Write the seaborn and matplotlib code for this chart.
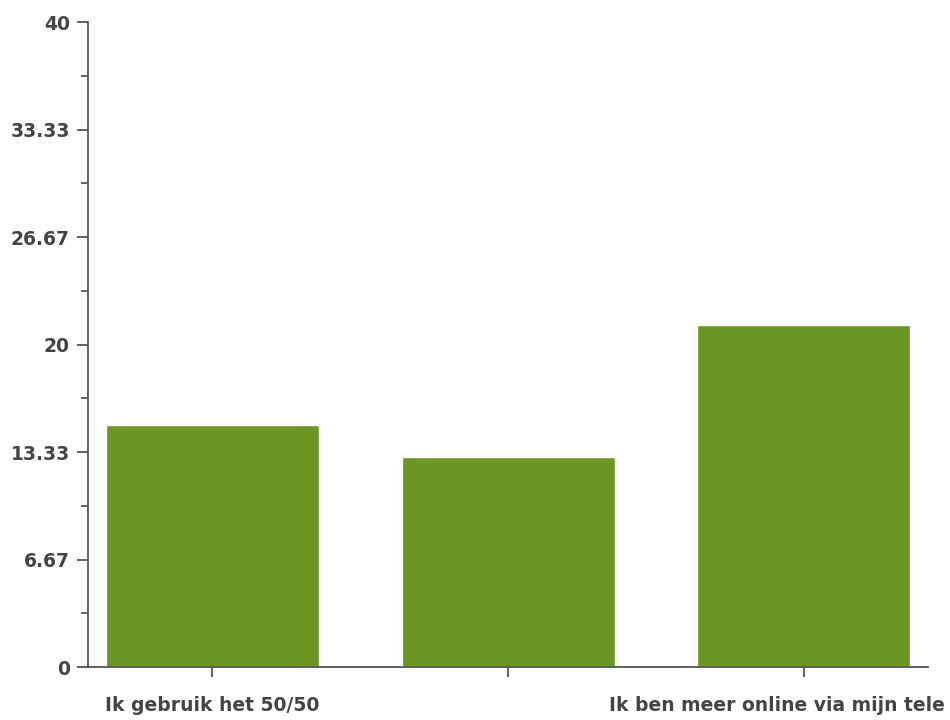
import matplotlib
matplotlib.use('Agg')
import matplotlib.pyplot as plt
import matplotlib.transforms as mtransforms
import seaborn as sns
import pandas as pd
from matplotlib.ticker import FixedLocator

# Data
categories = ['Ik gebruik het 50/50', '', 'Ik ben meer online via mijn tele']
values = [15.0, 13.0, 21.2]
y_ticks = [0, 6.67, 13.33, 20, 26.67, 33.33, 40]
y_tick_labels = ['0', '6.67', '13.33', '20', '26.67', '33.33', '40']

df = pd.DataFrame({'cat': ['a', 'b', 'c'], 'value': values})

sns.set_style('white')
plt.rcParams['font.family'] = ['DejaVu Sans']

fig = plt.figure(figsize=(9.5, 7.2), dpi=100)
ax = fig.add_axes([0.0926, 0.0736, 0.8844, 0.8954])

sns.barplot(data=df, x='cat', y='value', color='#6b9624', saturation=1,
            width=0.72, ax=ax)

ax.set_xlim(-0.42, 2.42)
ax.set_ylim(0, 40)
ax.set_yticks(y_ticks)
ax.set_yticklabels(y_tick_labels)
ax.yaxis.set_minor_locator(FixedLocator([3.333, 10, 16.667, 23.333, 30, 36.667]))
ax.set_xticks([0, 1, 2])
ax.set_xticklabels(categories)
ax.set_xlabel('')
ax.set_ylabel('')

for s in ['top', 'right']:
    ax.spines[s].set_visible(False)
for s in ['left', 'bottom']:
    ax.spines[s].set_color('#555555')
    ax.spines[s].set_linewidth(1.3)

ax.tick_params(axis='y', which='major', length=8, width=1.3, color='#555555',
               labelsize=13.5, labelcolor='#444444', pad=5, left=True)
ax.tick_params(axis='y', which='minor', length=5, width=1.3, color='#555555', left=True)
ax.tick_params(axis='x', length=7, width=1.3, color='#555555', direction='out',
               labelsize=13.5, labelcolor='#444444', pad=14, bottom=True)
for lab in ax.get_yticklabels() + ax.get_xticklabels():
    lab.set_fontweight('bold')

# the last label is cut at the right edge in the reference
last = ax.get_xticklabels()[2]
last.set_transform(last.get_transform() + mtransforms.ScaledTranslation(-0.27, 0, fig.dpi_scale_trans))

fig.savefig('out.png', dpi=100)
